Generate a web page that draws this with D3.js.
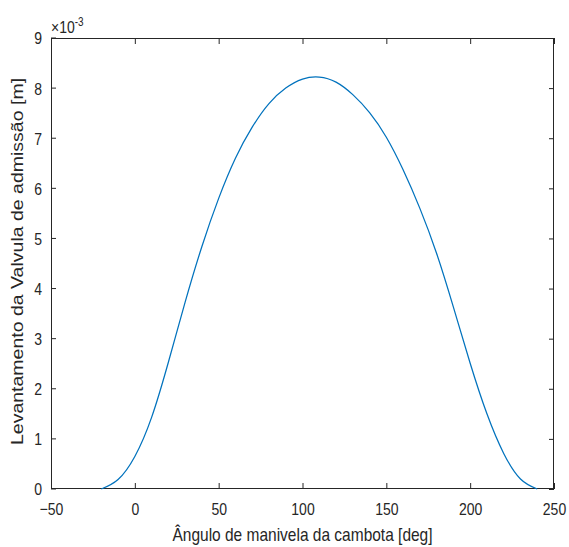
<!DOCTYPE html>
<html>
<head>
<meta charset="utf-8">
<script src="https://cdn.jsdelivr.net/npm/d3@7"></script>
<style>
  html, body { margin: 0; padding: 0; background: #ffffff; }
  svg { display: block; }
  text { font-family: "Liberation Sans", Arial, Helvetica, sans-serif; fill: #262626; }
</style>
</head>
<body>
<div id="chart"></div>
<script>
// ---- data ----
const angles = [-20, -10, 0, 10, 20, 30, 40, 50, 60, 70, 80, 90, 100, 110,
                120, 130, 140, 150, 160, 170, 180, 190, 200, 210, 220, 230, 240];
const lift = [0, 0.19, 0.65, 1.43, 2.53, 3.73, 4.84, 5.80, 6.60, 7.22, 7.69, 8.00, 8.18, 8.22,
              8.12, 7.87, 7.51, 7.02, 6.37, 5.60, 4.70, 3.63, 2.51, 1.50, 0.71, 0.20, 0]; // x 1e-3 m
const xTicks = [-50, 0, 50, 100, 150, 200, 250];
const yTicks = [0, 1, 2, 3, 4, 5, 6, 7, 8, 9];
const xLabel = "Ângulo de manivela da cambota [deg]";
const yLabel = "Levantamento da Valvula de admissão [m]";

// ---- layout ----
const W = 569, H = 547;
const L = 51, R = 554, T = 38, B = 489;
const S = 1.2; // vertical stretch of the text in the reference
const ink = "#262626";

const svg = d3.select("#chart").append("svg").attr("width", W).attr("height", H);
svg.append("rect").attr("width", W).attr("height", H).attr("fill", "#fff");

const x = d3.scaleLinear().domain([-50, 250]).range([L, R]);
const y = d3.scaleLinear().domain([0, 9]).range([B, T]);

// axes
const gx = svg.append("g").attr("transform", `translate(0,${B})`)
  .call(d3.axisBottom(x).tickValues(xTicks).tickSizeInner(-6).tickSizeOuter(0).tickFormat(d3.format("d")));
const gxTop = svg.append("g").attr("transform", `translate(0,${T})`)
  .call(d3.axisTop(x).tickValues(xTicks).tickSizeInner(-6).tickSizeOuter(0).tickFormat(""));
const gy = svg.append("g").attr("transform", `translate(${L},0)`)
  .call(d3.axisLeft(y).tickValues(yTicks).tickSizeInner(-5).tickSizeOuter(0).tickFormat(d3.format("d")));
const gyR = svg.append("g").attr("transform", `translate(${R},0)`)
  .call(d3.axisRight(y).tickValues(yTicks).tickSizeInner(-5).tickSizeOuter(0).tickFormat(""));

[gx, gxTop, gy, gyR].forEach(g => {
  g.select(".domain").remove();
  g.selectAll(".tick line").attr("stroke", ink).attr("stroke-width", 1);
});

gx.selectAll(".tick text")
  .attr("font-size", "14px").attr("fill", ink)
  .attr("dy", null).attr("y", 26 / S)
  .attr("transform", `scale(1,${S})`);
gy.selectAll(".tick text")
  .attr("font-size", "14px").attr("fill", ink)
  .attr("dy", null).attr("x", -9).attr("y", 0)
  .attr("dominant-baseline", "central");
gy.selectAll(".tick").each(function(d) {
  const t = d3.select(this);
  t.attr("transform", null);
  t.select("line").attr("transform", `translate(0,${y(d)})`);
  t.select("text").attr("transform", `translate(0,${y(d) + 0.5}) scale(1,${S})`);
});

// box
svg.append("rect").attr("x", L + 0.5).attr("y", T + 0.5)
  .attr("width", R - L - 1).attr("height", B - T - 1)
  .attr("fill", "none").attr("stroke", ink).attr("stroke-width", 1);

// curve
const line = d3.line().x((d, i) => x(angles[i])).y(d => y(d)).curve(d3.curveNatural);
svg.append("path").datum(lift).attr("d", line)
  .attr("fill", "none").attr("stroke", "#0072BD").attr("stroke-width", 1.25);

// exponent label
const ex = svg.append("text").attr("transform", `translate(${L},33) scale(1,${S})`)
  .attr("font-size", "14px").attr("fill", ink);
ex.append("tspan").text("×10");
ex.append("tspan").attr("font-size", "10px").attr("dy", "-0.6em").text("-3");

// axis labels
svg.append("text").attr("transform", `translate(${(L + R) / 2},541) scale(1,${S})`)
  .attr("text-anchor", "middle").attr("font-size", "15.5px").attr("fill", ink)
  .text(xLabel);
svg.append("text").attr("transform", `translate(23,${(T + B) / 2 - 2}) rotate(-90) scale(1.22,1)`)
  .attr("text-anchor", "middle").attr("font-size", "16px").attr("fill", ink)
  .text(yLabel);
</script>
</body>
</html>
